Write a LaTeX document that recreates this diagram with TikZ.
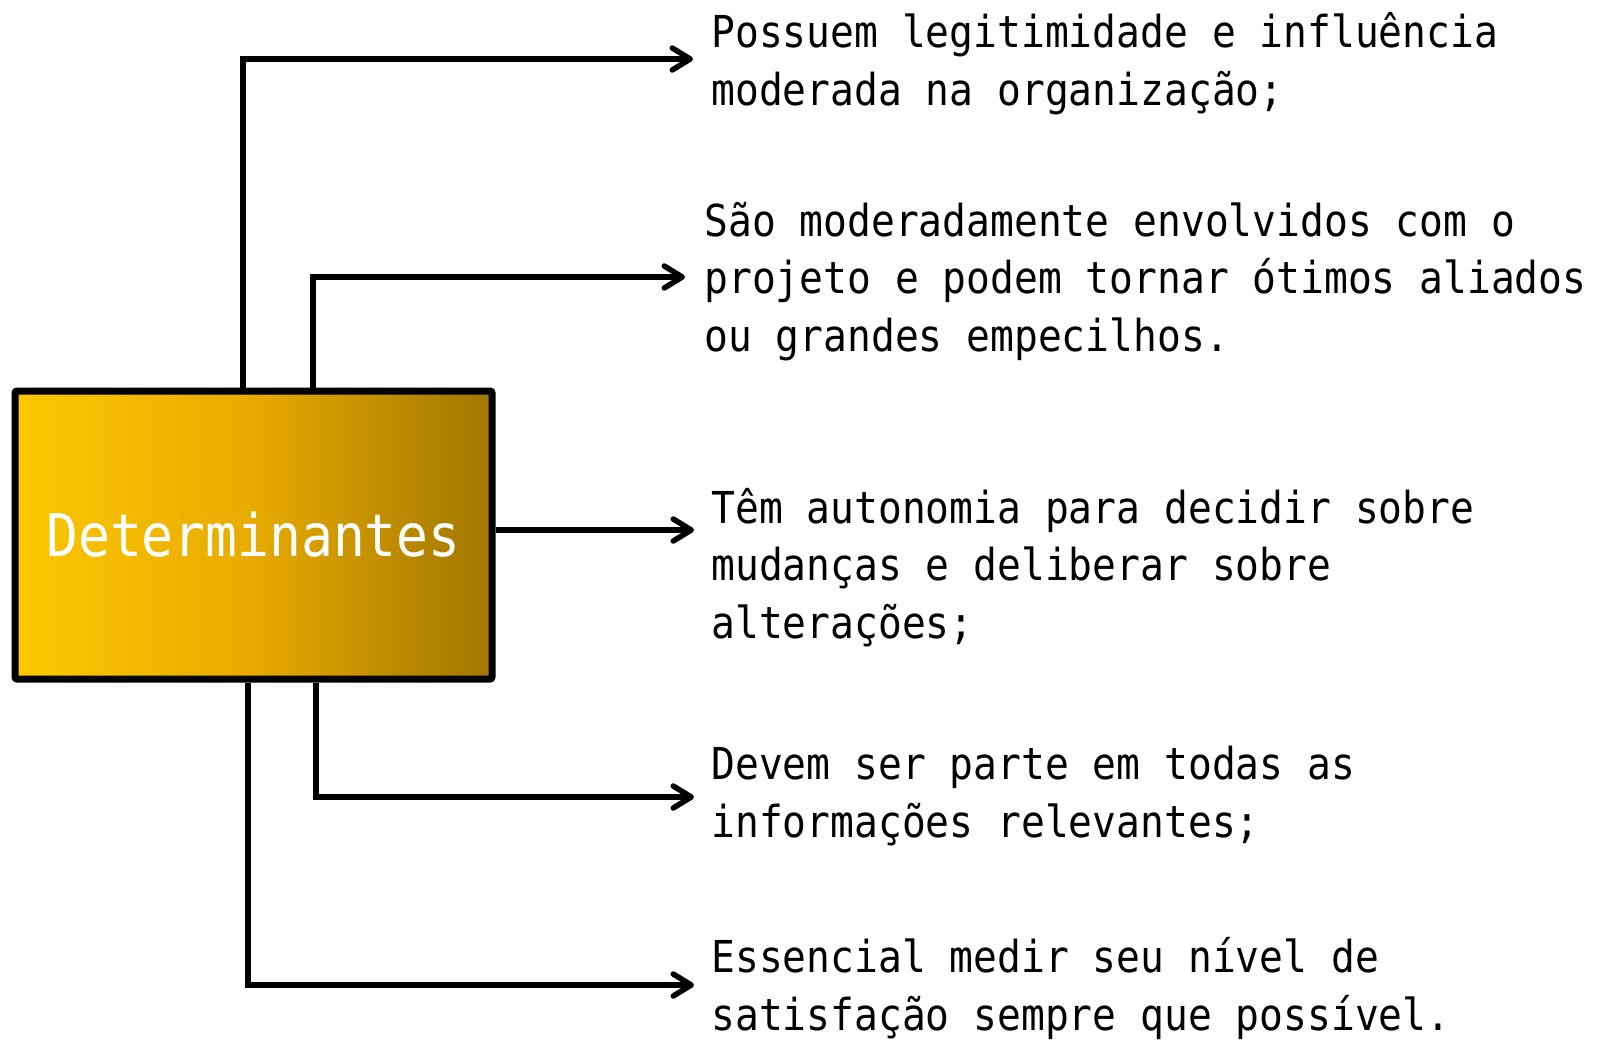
\documentclass[tikz,border=0pt]{standalone}
\usepackage{fontspec}
\usetikzlibrary{arrows.meta}
\newfontfamily\dmono[FakeStretch=0.9]{DejaVu Sans Mono}
\definecolor{goldL}{RGB}{252,200,0}
\definecolor{goldM}{RGB}{232,170,0}
\definecolor{goldR}{RGB}{160,118,0}
\tikzset{
  detbox/.style={draw=black, line width=3.5pt, rounded corners=1pt,
    left color=goldL, right color=goldR, middle color=goldM,
    minimum width=238.5pt, minimum height=144pt, inner sep=0pt,
    font=\dmono\fontsize{29.4}{30}\selectfont, text=white},
  desc/.style={anchor=base west, align=left, inner sep=0pt,
    font=\dmono\fontsize{22}{28.75}\selectfont},
  arr/.style={draw=black, line width=2.75pt, line join=miter,
    -{Straight Barb[length=9pt,width=11pt,line cap=round,line join=round]}}
}
\begin{document}
\begin{tikzpicture}[x=0.5pt,y=-0.5pt]
\useasboundingbox (0,0) rectangle (1604,1039);
\node[detbox] (det) at (253.5,535) {Determinantes};

\node[desc] (t1) at (711,105) {Possuem legitimidade e influência\\moderada na organização;};
\node[desc] (t2) at (704,351) {São moderadamente envolvidos com o\\projeto e podem tornar ótimos aliados\\ou grandes empecilhos.};
\node[desc] (t3) at (711,638) {Têm autonomia para decidir sobre\\mudanças e deliberar sobre\\alterações;};
\node[desc] (t4) at (711,837) {Devem ser parte em todas as\\informações relevantes;};
\node[desc] (t5) at (711,1030) {Essencial medir seu nível de\\satisfação sempre que possível.};

\coordinate (c1) at (243,0);
\coordinate (c2) at (313,0);
\coordinate (c4) at (316,0);
\coordinate (c5) at (248,0);
\coordinate (e1) at (693,59);
\coordinate (e2) at (685,277);
\coordinate (e3) at (694,530);
\coordinate (e4) at (694,797);
\coordinate (e5) at (694,985);

\draw[arr] (det.north -| c1) |- (e1);
\draw[arr] (det.north -| c2) |- (e2);
\draw[arr] (det.east |- e3) -- (e3);
\draw[arr] (det.south -| c4) |- (e4);
\draw[arr] (det.south -| c5) |- (e5);
\end{tikzpicture}
\end{document}
